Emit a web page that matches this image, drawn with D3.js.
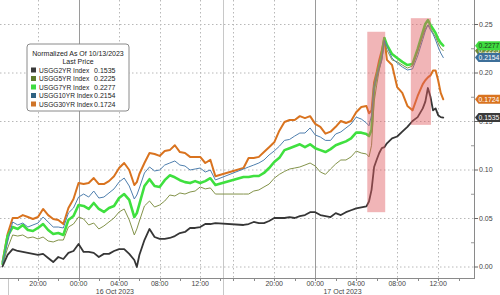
<!DOCTYPE html>
<meta charset="UTF-8">
<style>
    body { margin: 0; background: #fff; }
    svg { display: block; font-family: "Liberation Sans", Arial, sans-serif; }
    .grid { stroke: #b8b8b8; stroke-width: 1px; stroke-dasharray: 1.5,2.5; }
    .line { fill: none; stroke-linejoin: round; stroke-linecap: round; }
    .lbl { font-size: 7px; fill: #444; }
</style>
<body>
<div id="chart"></div>
<script src="https://d3js.org/d3.v7.min.js"></script>
<script>

// sample times (day-of-October + HH:MM), 16 Oct afternoon has a data gap
var times = [
    "15 16:30","15 17:00","15 17:30","15 18:00","15 18:30","15 19:00","15 19:30","15 20:00",
    "15 20:30","15 21:00","15 21:30","15 22:00","15 22:30","15 23:00","15 23:30",
    "16 00:00","16 00:30","16 01:00","16 01:30","16 02:00","16 02:30","16 03:00","16 03:30",
    "16 04:00","16 04:30","16 05:00","16 05:30","16 05:45","16 06:00","16 06:30","16 07:00",
    "16 07:30","16 08:00","16 08:30","16 09:00","16 09:30","16 10:00","16 10:30","16 11:00",
    "16 11:30","16 12:00","16 12:30","16 13:00","16 13:30",
    "16 17:00","16 17:30","16 18:00","16 18:30","16 19:00","16 19:30","16 20:00","16 20:30",
    "16 21:00","16 21:30","16 22:00","16 22:30","16 23:00","16 23:30",
    "17 00:00","17 00:30","17 01:00","17 01:30","17 02:00","17 02:30","17 03:00","17 03:30",
    "17 04:00","17 04:30","17 05:00","17 05:15","17 05:30","17 05:45","17 06:00","17 06:15",
    "17 06:30","17 06:45","17 07:00","17 07:30","17 08:00","17 08:30","17 09:00","17 09:30",
    "17 10:00","17 10:30","17 10:45","17 11:00","17 11:15","17 11:30","17 11:45","17 12:00",
    "17 12:15","17 12:30"
];

var usgg2yr = [
    0.000, 0.0119, 0.018, 0.016, 0.015, 0.014, 0.013, 0.012, 0.013, 0.0088, 0.0046, 0.0098, 0.0077, 0.014, 0.016,
    0.0232, 0.015, 0.015, 0.014, 0.0098, 0.013, 0.013, 0.016, 0.018, 0.018, 0.013, 0.0067, -0.0005, 0.0119, 0.0273, 0.0387,
    0.0304, 0.0284, 0.0284, 0.0294, 0.0314, 0.0345, 0.0356, 0.0397, 0.0397, 0.0407, 0.0438, 0.0438, 0.0448,
    0.0428, 0.0438, 0.0459, 0.0448, 0.0448, 0.0469, 0.050, 0.050, 0.050, 0.051, 0.050, 0.052, 0.053, 0.056,
    0.056, 0.053, 0.052, 0.051, 0.055, 0.053, 0.056, 0.058, 0.060, 0.061,
    0.062, 0.067, 0.079, 0.1026, 0.110, 0.117, 0.122, 0.123, 0.127,
    0.132, 0.134, 0.139, 0.144, 0.150, 0.154, 0.163,
    0.170, 0.184, 0.175, 0.161, 0.163, 0.156, 0.154, 0.1535
];

var usgg5yr = [
    0.0015, 0.019, 0.0325, 0.0314, 0.0325, 0.0294, 0.0304, 0.0284, 0.0304, 0.0263, 0.0253, 0.0273, 0.0273, 0.0407, 0.0438,
    0.051, 0.049, 0.0428, 0.0448, 0.0387, 0.0418, 0.0459, 0.050, 0.0562, 0.0593, 0.048, 0.0325, 0.0387, 0.0469, 0.0624, 0.0675,
    0.0613, 0.0634, 0.0675, 0.0737, 0.0727, 0.0758, 0.0747, 0.0768, 0.0778, 0.082, 0.080, 0.081, 0.0747,
    0.0747, 0.0747, 0.0778, 0.0789, 0.082, 0.085, 0.091, 0.095, 0.098, 0.1005, 0.1015, 0.1026, 0.1046, 0.1067,
    0.1036, 0.0974, 0.095, 0.1005, 0.1057, 0.1098, 0.1098, 0.113, 0.119, 0.117,
    0.116, 0.113, 0.125, 0.1696, 0.187, 0.2026, 0.213, 0.2325, 0.2232,
    0.213, 0.211, 0.2077, 0.2046, 0.2067, 0.222, 0.2376,
    0.2448, 0.249, 0.2459, 0.2407, 0.2366, 0.2304, 0.2253, 0.2225
];

var usgg7yr = [
    0.0026, 0.0314, 0.0407, 0.0387, 0.0428, 0.0376, 0.0366, 0.0397, 0.0438, 0.0376, 0.0335, 0.0345, 0.0325, 0.048, 0.052,
    0.0634, 0.0624, 0.0593, 0.0655, 0.0593, 0.0562, 0.0603, 0.0624, 0.0706, 0.0747, 0.0686, 0.051, 0.055, 0.0644, 0.083, 0.090,
    0.083, 0.082, 0.089, 0.094, 0.092, 0.089, 0.087, 0.086, 0.088, 0.086, 0.088, 0.091, 0.084,
    0.0923, 0.0923, 0.0933, 0.0933, 0.0964, 0.1015, 0.1077, 0.112, 0.120, 0.122, 0.124, 0.126, 0.123, 0.126,
    0.122, 0.120, 0.118, 0.121, 0.125, 0.127, 0.129, 0.132, 0.138, 0.138,
    0.1365, 0.1345, 0.1407, 0.184, 0.1964, 0.2067, 0.218, 0.2355, 0.2284,
    0.219, 0.2149, 0.211, 0.2077, 0.2087, 0.224, 0.2417,
    0.250, 0.254, 0.249, 0.2448, 0.2407, 0.2345, 0.2304, 0.2277
];

var usgg10yr = [
    0.0036, 0.0253, 0.0459, 0.0428, 0.0448, 0.0407, 0.0428, 0.0448, 0.051, 0.0459, 0.0407, 0.0407, 0.0397, 0.0552, 0.0603,
    0.0716, 0.0747, 0.0716, 0.0778, 0.0706, 0.0716, 0.0758, 0.080, 0.0871, 0.0912, 0.083, 0.0696, 0.0737, 0.0809, 0.0964, 0.1026,
    0.0985, 0.0995, 0.1046, 0.1067, 0.1088, 0.1046, 0.1036, 0.0995, 0.1005, 0.1015, 0.0974, 0.0995, 0.0892,
    0.1005, 0.1026, 0.1046, 0.1067, 0.1098, 0.115, 0.1191, 0.124, 0.130, 0.131, 0.1345, 0.1376, 0.1376, 0.1428,
    0.1356, 0.1335, 0.130, 0.130, 0.1366, 0.1387, 0.1428, 0.1469, 0.154, 0.152,
    0.148, 0.145, 0.156, 0.186, 0.1964, 0.2046, 0.2128, 0.2335, 0.2273,
    0.2149, 0.2098, 0.2057, 0.2026, 0.2036, 0.217, 0.234,
    0.2428, 0.249, 0.2438, 0.2397, 0.2335, 0.2263, 0.2201, 0.2154
];

var usgg30yr = [
    0.0046, 0.0335, 0.050, 0.050, 0.053, 0.051, 0.049, 0.051, 0.0593, 0.053, 0.049, 0.048, 0.0438, 0.0603, 0.0696,
    0.0861, 0.085, 0.0861, 0.0912, 0.085, 0.085, 0.088, 0.093, 0.1015, 0.1067, 0.0995, 0.084, 0.087, 0.0954, 0.1067, 0.117,
    0.116, 0.114, 0.119, 0.120, 0.125, 0.118, 0.117, 0.113, 0.113, 0.113, 0.1067, 0.110, 0.093,
    0.1015, 0.1118, 0.1118, 0.113, 0.118, 0.123, 0.128, 0.140, 0.149, 0.151, 0.151, 0.155, 0.153, 0.155,
    0.147, 0.144, 0.137, 0.139, 0.144, 0.150, 0.148, 0.150, 0.159, 0.1645,
    0.1655, 0.158, 0.161, 0.190, 0.2005, 0.213, 0.223, 0.2355, 0.213,
    0.2077, 0.185, 0.179, 0.1655, 0.161, 0.1758, 0.188,
    0.192, 0.195, 0.197, 0.202, 0.202, 0.192, 0.179, 0.1724
];

var seriesNames = ["USGG2YR Index", "USGG5YR Index", "USGG7YR Index", "USGG10YR Index", "USGG30YR Index"];
var lastPrices = ["0.1535", "0.2225", "0.2277", "0.2154", "0.1724"];

// axis ticks
var yTicks = [0, 0.05, 0.10, 0.15, 0.20, 0.25];
var xTickTimes = ["15 20:00","16 00:00","16 04:00","16 08:00","16 12:00","16 20:00","17 00:00","17 04:00","17 08:00","17 12:00"];
var xGridTimes = ["15 20:00","16 04:00","16 08:00","16 12:00","16 16:00","16 20:00","17 04:00","17 08:00","17 12:00"];
var dayTimes = ["16 00:00","17 00:00"];
var dateLabels = ["16 Oct 2023", "17 Oct 2023"];
var dateLabelTimes = ["16 03:35", "17 02:40"];

// highlighted boxes
var boxStart = ["17 05:05", "17 09:20"];
var boxEnd = ["17 06:50", "17 11:18"];
var boxTop = [0.242, 0.256];
var boxBottom = [0.056, 0.146];

var parseTime = d3.timeParse("%Y-%m-%d %H:%M");
function t(s) { return parseTime("2023-10-" + s); }
var fmt = d3.timeFormat("%H:%M");

var W = 500, H = 295, plotRight = 474, axisY = 278;

// compressed time axis: the quiet hours of 16 Oct afternoon are cut
var x = d3.scaleTime()
    .domain([t("15 16:15"), t("16 14:15"), t("16 15:00"), t("17 15:30")])
    .range([0, 223, 223, plotRight]);
var y = d3.scaleLinear().domain([0, 0.25]).range([266.5, 24]);

var svg = d3.select("#chart").append("svg")
    .attr("width", W)
    .attr("height", H);

// horizontal grid
svg.selectAll(".hgrid").data(yTicks).enter().append("line")
    .attr("class", "grid")
    .attr("x1", 0).attr("x2", plotRight)
    .attr("y1", function(d) { return y(d) + 0.5; })
    .attr("y2", function(d) { return y(d) + 0.5; });

// vertical grid
svg.selectAll(".vgrid").data(xGridTimes).enter().append("line")
    .attr("class", "grid")
    .attr("x1", function(d) { return Math.round(x(t(d))) + 0.5; })
    .attr("x2", function(d) { return Math.round(x(t(d))) + 0.5; })
    .attr("y1", 0).attr("y2", axisY);

// day separators
svg.selectAll(".day").data(dayTimes).enter().append("line")
    .attr("x1", function(d) { return Math.round(x(t(d))) + 0.5; })
    .attr("x2", function(d) { return Math.round(x(t(d))) + 0.5; })
    .attr("y1", 0).attr("y2", axisY)
    .attr("stroke", "#9a9a9a");

// session break lines
var breakX = Math.round(x(t("16 14:15"))) + 0.5;
svg.append("line")
    .attr("x1", breakX).attr("x2", breakX).attr("y1", 0).attr("y2", H)
    .attr("stroke", "#c8c8c8");
var openX = Math.round(x(t("15 17:00"))) + 0.5;
svg.append("line")
    .attr("x1", openX).attr("x2", openX).attr("y1", axisY).attr("y2", H)
    .attr("stroke", "#c8c8c8");

// lines
var series = [
    {name: "USGG30YR", values: usgg30yr, color: "#d9731f", width: 2},
    {name: "USGG7YR", values: usgg7yr, color: "#3fe03f", width: 2.6},
    {name: "USGG5YR", values: usgg5yr, color: "#83934a", width: 1},
    {name: "USGG10YR", values: usgg10yr, color: "#4f7fae", width: 1},
    {name: "USGG2YR", values: usgg2yr, color: "#363636", width: 1.8}
];

var valueline = d3.line()
    .x(function(d) { return x(d[0]); })
    .y(function(d) { return y(d[1]); });

series.forEach(function(s) {
    var pts = times.map(function(tm, i) { return [t(tm), s.values[i]]; });
    svg.append("path")
        .datum(pts)
        .attr("class", "line")
        .attr("stroke", s.color)
        .attr("stroke-width", s.width)
        .attr("d", valueline);
});

// red highlight boxes
svg.selectAll(".box").data(boxStart).enter().append("rect")
    .attr("x", function(d) { return x(t(d)); })
    .attr("width", function(d, i) { return x(t(boxEnd[i])) - x(t(d)); })
    .attr("y", function(d, i) { return y(boxTop[i]); })
    .attr("height", function(d, i) { return y(boxBottom[i]) - y(boxTop[i]); })
    .attr("fill", "#e05a60")
    .attr("opacity", 0.45);

// bottom axis
svg.append("line")
    .attr("x1", 0).attr("x2", plotRight).attr("y1", axisY + 0.5).attr("y2", axisY + 0.5)
    .attr("stroke", "#8a8a8a");

var minor = d3.timeHour.every(2).range(t("15 16:15"), t("16 14:15"))
    .concat(d3.timeHour.every(2).range(t("16 15:00"), t("17 15:30")));
svg.selectAll(".mtick").data(minor).enter().append("line")
    .attr("x1", function(d) { return Math.round(x(d)) + 0.5; })
    .attr("x2", function(d) { return Math.round(x(d)) + 0.5; })
    .attr("y1", axisY).attr("y2", axisY + 3)
    .attr("stroke", "#8a8a8a");

svg.selectAll(".xlbl").data(xTickTimes).enter().append("text")
    .attr("class", "lbl")
    .attr("x", function(d) { return x(t(d)); })
    .attr("y", 285.5)
    .attr("text-anchor", "middle")
    .text(function(d) { return fmt(t(d)); });

svg.selectAll(".dlbl").data(dateLabels).enter().append("text")
    .attr("class", "lbl")
    .attr("x", function(d, i) { return x(t(dateLabelTimes[i])); })
    .attr("y", 293.5)
    .attr("text-anchor", "middle")
    .text(function(d) { return d; });

// right axis
svg.append("line")
    .attr("x1", plotRight + 0.5).attr("x2", plotRight + 0.5).attr("y1", 0).attr("y2", axisY + 1)
    .attr("stroke", "#8a8a8a");

svg.selectAll(".ytick").data(yTicks).enter().append("line")
    .attr("x1", plotRight).attr("x2", plotRight + 4)
    .attr("y1", function(d) { return y(d) + 0.5; })
    .attr("y2", function(d) { return y(d) + 0.5; })
    .attr("stroke", "#666");

svg.selectAll(".yminor").data(d3.range(0.025, 0.26, 0.05)).enter().append("line")
    .attr("x1", plotRight - 3).attr("x2", plotRight)
    .attr("y1", function(d) { return y(d) + 0.5; })
    .attr("y2", function(d) { return y(d) + 0.5; })
    .attr("stroke", "#999");

svg.selectAll(".ylbl").data(yTicks).enter().append("text")
    .attr("class", "lbl")
    .attr("x", plotRight + 5)
    .attr("y", function(d) { return y(d) + 2.5; })
    .text(function(d) { return d3.format(".2f")(d); });

// legend
var legendColors = ["#3a3a3a", "#5e7a2c", "#3fdc3f", "#2f6282", "#cf7428"];
var lg = svg.append("g");
lg.append("rect")
    .attr("x", 27).attr("y", 44).attr("width", 102).attr("height", 67)
    .attr("rx", 3)
    .attr("fill", "#fff")
    .attr("stroke", "#8a8a8a");
lg.append("text")
    .attr("x", 78).attr("y", 55.8)
    .attr("text-anchor", "middle")
    .attr("font-size", "7px").attr("fill", "#222")
    .text("Normalized As Of 10/13/2023");
lg.append("text")
    .attr("x", 78).attr("y", 64.3)
    .attr("text-anchor", "middle")
    .attr("font-size", "7px").attr("fill", "#222")
    .text("Last Price");

var rows = lg.selectAll(".row").data(seriesNames).enter().append("g")
    .attr("transform", function(d, i) { return "translate(0," + (70 + i * 8.5) + ")"; });
rows.append("rect")
    .attr("x", 31).attr("y", -2.5).attr("width", 5).attr("height", 5)
    .attr("fill", function(d, i) { return legendColors[i]; });
rows.append("text")
    .attr("x", 39).attr("y", 2.5)
    .attr("font-size", "6.6px").attr("fill", "#222")
    .text(function(d) { return d; });
rows.append("text")
    .attr("x", 115.5).attr("y", 2.5)
    .attr("text-anchor", "end")
    .attr("font-size", "7px").attr("fill", "#222")
    .text(function(d, i) { return lastPrices[i]; });

// last value tags on the right axis (drawn back to front)
var tags = [
    {i: 1, bg: "#6f8a36", fg: "#fff"},
    {i: 2, bg: "#3fdc3f", fg: "#1c3a1c"},
    {i: 3, bg: "#3d6f99", fg: "#fff"},
    {i: 4, bg: "#d9731f", fg: "#fff"},
    {i: 0, bg: "#3a3a3a", fg: "#fff"}
];
tags.forEach(function(tg) {
    var cy = y(+lastPrices[tg.i]);
    svg.append("path")
        .attr("d", "M475," + cy + "L478.5," + (cy - 4.5) + "L501," + (cy - 4.5) +
            "L501," + (cy + 4.5) + "L478.5," + (cy + 4.5) + "Z")
        .attr("fill", tg.bg);
    svg.append("text")
        .attr("x", 478.5).attr("y", cy + 2.4)
        .attr("font-size", "6.8px")
        .attr("fill", tg.fg)
        .text(lastPrices[tg.i]);
});

</script>
</body>
